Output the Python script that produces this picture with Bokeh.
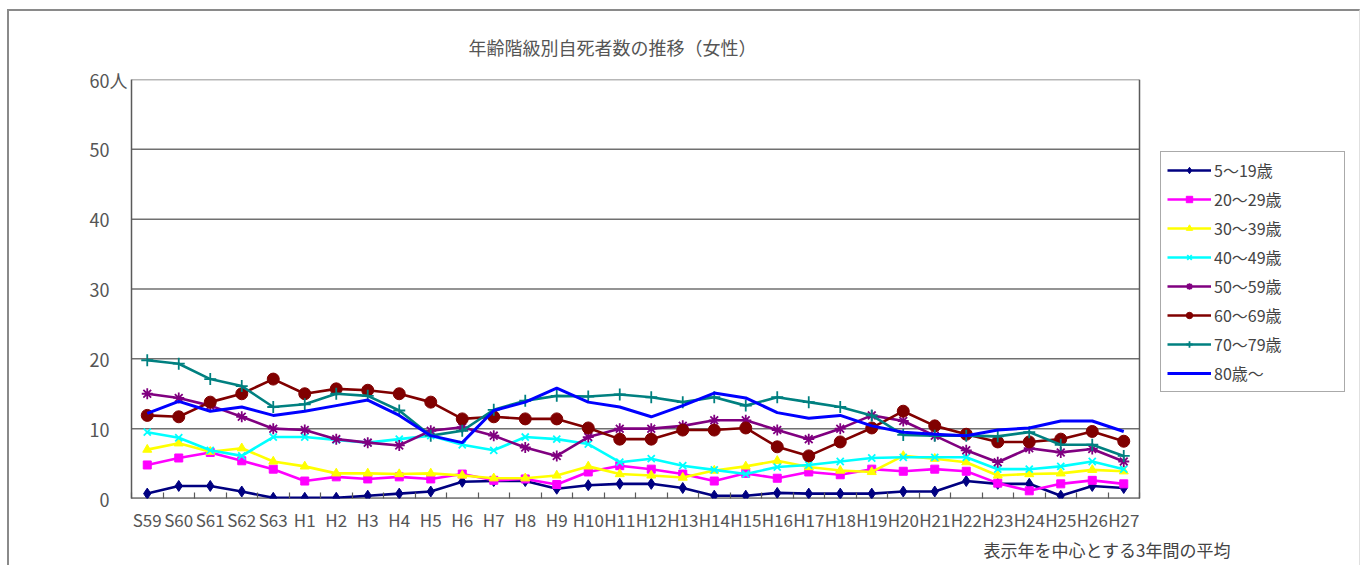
from bokeh.plotting import figure
from bokeh.models import (Range1d, FixedTicker, Legend, LegendItem, Title)
from bokeh.embed import file_html
from bokeh.resources import INLINE

categories = ["S59", "S60", "S61", "S62", "S63",
              "H1", "H2", "H3", "H4", "H5", "H6", "H7", "H8", "H9", "H10",
              "H11", "H12", "H13", "H14", "H15", "H16", "H17", "H18", "H19", "H20",
              "H21", "H22", "H23", "H24", "H25", "H26", "H27"]

a5_19 = [0.7, 1.8, 1.8, 1.0, 0.1, 0.1, 0.1, 0.4, 0.7, 1.0, 2.4,
         2.5, 2.5, 1.4, 1.9, 2.1, 2.1, 1.5, 0.4, 0.4, 0.8,
         0.7, 0.7, 0.7, 1.0, 1.0, 2.5, 2.1, 2.1, 0.4, 1.8, 1.5]
a20_29 = [4.8, 5.8, 6.6, 5.4, 4.2, 2.5, 3.1, 2.8, 3.1, 2.8, 3.5,
          2.6, 2.8, 2.0, 3.8, 4.7, 4.2, 3.5, 2.5, 3.6, 2.9,
          3.8, 3.4, 4.2, 3.9, 4.2, 3.9, 2.2, 1.1, 2.1, 2.6, 2.1]
a30_39 = [7.0, 7.9, 6.7, 7.2, 5.3, 4.6, 3.6, 3.6, 3.5, 3.6, 3.3,
          2.9, 2.9, 3.3, 4.6, 3.5, 3.3, 3.0, 4.0, 4.6, 5.4,
          4.5, 4.0, 3.8, 6.1, 5.7, 5.2, 3.3, 3.5, 3.6, 4.1, 3.9]
a40_49 = [9.5, 8.7, 6.9, 6.1, 8.8, 8.8, 8.4, 8.0, 8.5, 9.0, 7.7,
          6.9, 8.8, 8.5, 7.8, 5.2, 5.7, 4.7, 4.1, 3.5, 4.5,
          4.8, 5.3, 5.8, 5.9, 5.9, 5.9, 4.2, 4.2, 4.6, 5.3, 4.2]
a50_59 = [15.0, 14.4, 13.3, 11.7, 10.0, 9.8, 8.5, 8.0, 7.6, 9.7, 10.2,
          9.0, 7.3, 6.1, 8.8, 10.0, 10.0, 10.4, 11.2, 11.2, 9.8,
          8.5, 10.0, 11.9, 11.1, 9.0, 6.9, 5.2, 7.2, 6.6, 7.1, 5.3]
a60_69 = [11.9, 11.7, 13.8, 15.0, 17.1, 15.0, 15.7, 15.5, 15.0, 13.8, 11.4,
          11.7, 11.4, 11.4, 10.1, 8.5, 8.5, 9.8, 9.8, 10.1, 7.4,
          6.1, 8.1, 10.1, 12.5, 10.4, 9.2, 8.1, 8.1, 8.5, 9.6, 8.2]
a70_79 = [19.8, 19.3, 17.1, 16.1, 13.1, 13.5, 15.0, 14.7, 12.6, 9.0, 9.7,
          12.7, 14.0, 14.7, 14.6, 14.9, 14.5, 13.8, 14.5, 13.3, 14.5,
          13.8, 13.1, 11.9, 9.1, 9.0, 9.0, 8.9, 9.5, 7.7, 7.7, 6.1]
a80 = [12.2, 13.9, 12.5, 13.1, 11.9, 12.5, 13.3, 14.1, 11.9, 9.0, 8.0,
       12.6, 13.8, 15.8, 13.8, 13.1, 11.7, 13.3, 15.1, 14.4, 12.3,
       11.5, 11.9, 10.4, 9.5, 9.2, 9.0, 9.8, 10.1, 11.1, 11.1, 9.6]

series_labels = ["5～19歳", "20～29歳", "30～39歳", "40～49歳",
                 "50～59歳", "60～69歳", "70～79歳", "80歳～"]
y_ticks = [0, 10, 20, 30, 40, 50, 60]
y_unit = "人"
title_text = "年齢階級別自死者数の推移（女性）"
note_text = "表示年を中心とする3年間の平均"

FONT = "Noto Sans CJK JP"
TXT = "#555555"
FRAME = "#5a5a5a"

n = len(categories)
xs = list(range(n))
ymax = max(y_ticks)

# layout constants (pixels)
W, H = 1353, 556
MB_L, MB_R, MB_T, MB_B = 122, 10, 67, 69
PLOT_W = 1008                       # width of the category area
frame_w = W - MB_L - MB_R
x_end = -0.5 + frame_w * n / PLOT_W  # extra room on the right for the legend

p = figure(width=W, height=H, output_backend="svg", toolbar_location=None,
           x_range=Range1d(-0.5, x_end), y_range=Range1d(0, ymax),
           min_border_left=MB_L, min_border_right=MB_R, min_border_top=MB_T,
           min_border_bottom=MB_B,
           styles={"margin-left": "7px", "margin-top": "9px",
                   "border-left": "2px solid #8a8a8a", "border-top": "2px solid #8a8a8a",
                   "border-right": "1px solid #e0e0e0"})
p.outline_line_color = None
p.background_fill_color = "white"
p.border_fill_color = "white"

# title above the frame
p.title.text = title_text
p.title.align = "left"
p.title.offset = 337
p.title.standoff = 40
p.title.text_font = FONT
p.title.text_font_size = "18px"
p.title.text_font_style = "normal"
p.title.text_color = TXT

# axes
xa = p.xaxis[0]
xa.ticker = FixedTicker(ticks=xs, minor_ticks=[i - 0.5 for i in range(n + 1)])
xa.major_label_overrides = {i: c for i, c in enumerate(categories)}
xa.major_tick_line_color = None
xa.major_tick_out = 0
xa.major_tick_in = 0
xa.minor_tick_in = 6
xa.minor_tick_out = 0
xa.minor_tick_line_color = FRAME
xa.minor_tick_line_width = 1.2
xa.axis_line_color = None
xa.major_label_text_font = FONT
xa.major_label_text_font_size = "17px"
xa.major_label_text_color = TXT
xa.major_label_standoff = 8

ya = p.yaxis[0]
ya.ticker = FixedTicker(ticks=y_ticks)
ya.major_label_overrides = {t: (f"{t}{y_unit}" if t == ymax else f"{t}\u3000")
                            for t in y_ticks}
ya.major_tick_line_color = None
ya.major_tick_out = 0
ya.major_tick_in = 0
ya.minor_tick_line_color = None
ya.axis_line_color = FRAME
ya.axis_line_width = 1.5
ya.major_label_text_font = FONT
ya.major_label_text_font_size = "18px"
ya.major_label_text_color = TXT
ya.major_label_standoff = 4

p.xgrid.grid_line_color = None
p.ygrid.grid_line_color = None

# grid lines and plot-area border limited to the category area
p.segment(x0=[-0.5] * len(y_ticks), y0=y_ticks, x1=[n - 0.5] * len(y_ticks), y1=y_ticks,
          line_color="#707070", line_width=1.5)
p.segment(x0=[n - 0.5], y0=[0], x1=[n - 0.5], y1=[ymax], line_color=FRAME, line_width=1.5)
p.segment(x0=[-0.5], y0=[0], x1=[n - 0.5], y1=[0], line_color=FRAME, line_width=1.8)

specs = [
    (a5_19, "#000080", "diamond", 11, 2.6),
    (a20_29, "#ff00ff", "square", 8, 2.6),
    (a30_39, "#ffff00", "triangle", 9, 2.6),
    (a40_49, "#00ffff", "x", 10, 2.6),
    (a50_59, "#800080", "asterisk", 11, 2.6),
    (a60_69, "#800000", "circle", 12, 2.6),
    (a70_79, "#008080", "cross", 12, 2.6),
    (a80, "#0000ff", None, 0, 3),
]

items = []
for (vals, col, mk, sz, lw), lab in zip(specs, series_labels):
    rs = [p.line(xs, vals, line_color=col, line_width=lw)]
    if mk is not None:
        rs.append(p.scatter(xs, vals, marker=mk, size=sz, fill_color=col,
                            line_color=col,
                            line_width=1.8 if mk in ("x", "asterisk", "cross") else 1))
    items.append(LegendItem(label=lab, renderers=rs))

legend = Legend(items=items, location=(1029, 106), orientation="vertical",
                border_line_color="#555555", border_line_width=1.5,
                background_fill_color="white", background_fill_alpha=1,
                label_text_font=FONT, label_text_font_size="16px",
                label_text_color="#444444", glyph_width=44, glyph_height=16,
                label_height=16, label_width=124, spacing=5, padding=6,
                label_standoff=3, margin=0)
p.add_layout(legend, "center")

# note below the axis
note = Title(text=note_text, align="left", offset=852, standoff=0,
             text_font=FONT, text_font_size="17px", text_font_style="normal",
             text_color="#444444")
p.add_layout(note, "below")

open("out.html", "w").write(file_html(p, INLINE))
